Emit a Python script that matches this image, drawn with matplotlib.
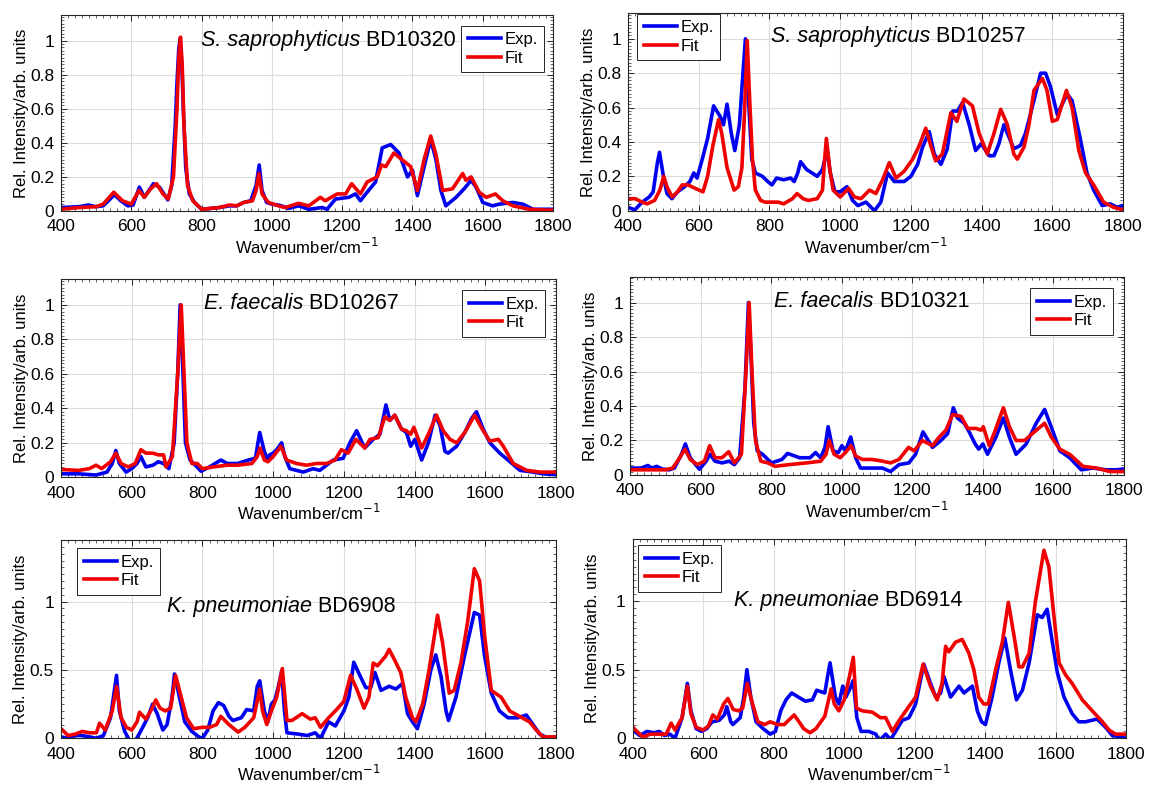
import numpy as np
import matplotlib
matplotlib.use('Agg')
import matplotlib.pyplot as plt
from matplotlib.ticker import AutoMinorLocator, MultipleLocator

plt.rcParams['font.family'] = ['Liberation Sans', 'DejaVu Sans']

# (wavenumber, relative intensity) pairs for each strain
sa320_exp = np.array([
    (400, 0.02), (450, 0.025), (478, 0.035), (500, 0.025), (520, 0.03), (552, 0.095), (570, 0.06),
    (590, 0.03), (605, 0.035), (623, 0.14), (637, 0.08), (663, 0.16), (680, 0.14), (704, 0.065),
    (715, 0.15), (725, 0.5), (730, 0.75), (735, 0.95), (739, 1.01), (744, 0.85), (748, 0.6),
    (755, 0.25), (765, 0.1), (780, 0.05), (800, 0.01), (850, 0.02), (880, 0.03), (900, 0.03),
    (920, 0.05), (940, 0.06), (955, 0.15), (964, 0.27), (972, 0.12), (985, 0.05), (1000, 0.04),
    (1019, 0.035), (1048, 0.015), (1076, 0.03), (1105, 0.01), (1143, 0.02), (1157, 0.01),
    (1181, 0.07), (1219, 0.08), (1238, 0.1), (1252, 0.06), (1271, 0.11), (1295, 0.17),
    (1314, 0.37), (1338, 0.39), (1362, 0.34), (1386, 0.2), (1400, 0.24), (1414, 0.09),
    (1438, 0.3), (1452, 0.42), (1467, 0.3), (1481, 0.12), (1495, 0.03), (1524, 0.08),
    (1547, 0.13), (1567, 0.18), (1581, 0.14), (1600, 0.05), (1628, 0.03), (1647, 0.04),
    (1686, 0.05), (1714, 0.04), (1743, 0.01), (1800, 0.01)])
sa320_fit = np.array([
    (400, 0.01), (450, 0.02), (500, 0.025), (520, 0.04), (550, 0.11), (575, 0.06), (600, 0.04),
    (622, 0.12), (637, 0.08), (655, 0.13), (672, 0.16), (690, 0.1), (705, 0.07), (720, 0.2),
    (730, 0.6), (735, 0.9), (740, 1.02), (745, 0.85), (750, 0.5), (760, 0.15), (775, 0.06),
    (800, 0.01), (850, 0.02), (880, 0.035), (900, 0.03), (920, 0.05), (945, 0.06), (955, 0.12),
    (963, 0.22), (972, 0.1), (990, 0.05), (1019, 0.03), (1038, 0.02), (1076, 0.045),
    (1105, 0.03), (1138, 0.08), (1152, 0.06), (1186, 0.1), (1210, 0.1), (1227, 0.16),
    (1252, 0.1), (1271, 0.17), (1300, 0.2), (1312, 0.27), (1324, 0.26), (1347, 0.34),
    (1371, 0.3), (1395, 0.26), (1414, 0.12), (1433, 0.3), (1452, 0.44), (1467, 0.33),
    (1486, 0.12), (1514, 0.13), (1543, 0.22), (1552, 0.18), (1567, 0.2), (1590, 0.11),
    (1610, 0.08), (1636, 0.1), (1657, 0.06), (1686, 0.03), (1733, 0.01), (1781, 0.005),
    (1800, 0.005)])

sa257_exp = np.array([
    (400, 0.02), (419, 0.005), (440, 0.05), (460, 0.08), (471, 0.11), (483, 0.28), (489, 0.34),
    (500, 0.2), (510, 0.1), (524, 0.07), (540, 0.11), (560, 0.14), (575, 0.17), (586, 0.22),
    (595, 0.19), (610, 0.3), (625, 0.42), (642, 0.61), (660, 0.55), (670, 0.5), (680, 0.62),
    (692, 0.45), (702, 0.35), (715, 0.5), (725, 0.8), (732, 1.0), (742, 0.6), (750, 0.3),
    (760, 0.22), (780, 0.2), (795, 0.17), (807, 0.15), (820, 0.19), (840, 0.18), (860, 0.19),
    (870, 0.17), (880, 0.22), (888, 0.285), (905, 0.24), (920, 0.22), (935, 0.2), (950, 0.24),
    (957, 0.3), (963, 0.36), (972, 0.22), (985, 0.11), (1000, 0.11), (1019, 0.14),
    (1035, 0.06), (1050, 0.03), (1073, 0.05), (1097, 0.0), (1115, 0.05), (1134, 0.22),
    (1153, 0.17), (1181, 0.17), (1200, 0.2), (1219, 0.27), (1233, 0.37), (1252, 0.46),
    (1266, 0.33), (1285, 0.27), (1303, 0.36), (1318, 0.58), (1332, 0.58), (1346, 0.63),
    (1365, 0.5), (1383, 0.35), (1399, 0.39), (1421, 0.32), (1435, 0.32), (1449, 0.39),
    (1463, 0.5), (1477, 0.43), (1491, 0.36), (1510, 0.38), (1524, 0.45), (1543, 0.6),
    (1567, 0.8), (1581, 0.8), (1595, 0.72), (1614, 0.56), (1642, 0.68), (1656, 0.64),
    (1679, 0.42), (1698, 0.22), (1717, 0.12), (1741, 0.03), (1764, 0.04), (1783, 0.02),
    (1800, 0.03)])
sa257_fit = np.array([
    (400, 0.07), (420, 0.07), (440, 0.05), (454, 0.04), (475, 0.06), (490, 0.12), (501, 0.2),
    (510, 0.14), (525, 0.08), (540, 0.11), (553, 0.15), (570, 0.15), (590, 0.13), (612, 0.11),
    (625, 0.2), (640, 0.38), (656, 0.53), (665, 0.45), (680, 0.25), (700, 0.12), (712, 0.14),
    (722, 0.25), (730, 0.6), (737, 0.99), (745, 0.6), (752, 0.3), (760, 0.12), (775, 0.06),
    (788, 0.05), (800, 0.05), (825, 0.05), (840, 0.04), (865, 0.07), (878, 0.1), (895, 0.07),
    (910, 0.06), (935, 0.07), (950, 0.12), (956, 0.3), (961, 0.42), (970, 0.25), (980, 0.12),
    (1000, 0.08), (1024, 0.13), (1040, 0.08), (1059, 0.07), (1083, 0.12), (1101, 0.1),
    (1120, 0.18), (1139, 0.28), (1158, 0.19), (1181, 0.23), (1205, 0.3), (1224, 0.38),
    (1242, 0.48), (1256, 0.38), (1270, 0.29), (1289, 0.33), (1303, 0.47), (1313, 0.57),
    (1330, 0.52), (1350, 0.65), (1374, 0.61), (1393, 0.45), (1416, 0.33), (1435, 0.45),
    (1454, 0.59), (1473, 0.5), (1491, 0.33), (1501, 0.3), (1520, 0.37), (1534, 0.5),
    (1548, 0.7), (1572, 0.77), (1585, 0.7), (1600, 0.52), (1614, 0.53), (1640, 0.7),
    (1656, 0.6), (1675, 0.35), (1694, 0.22), (1717, 0.15), (1745, 0.05), (1773, 0.02),
    (1800, 0.005)])

ef267_exp = np.array([
    (400, 0.02), (450, 0.02), (499, 0.013), (530, 0.03), (545, 0.08), (555, 0.155), (565, 0.08),
    (584, 0.03), (600, 0.05), (615, 0.08), (626, 0.12), (640, 0.06), (660, 0.07), (675, 0.09),
    (690, 0.08), (705, 0.05), (720, 0.2), (730, 0.6), (737, 1.0), (745, 0.6), (752, 0.2),
    (765, 0.1), (785, 0.06), (796, 0.035), (820, 0.06), (852, 0.1), (870, 0.08), (900, 0.08),
    (930, 0.1), (950, 0.11), (957, 0.2), (962, 0.26), (975, 0.15), (985, 0.1), (990, 0.13),
    (1000, 0.14), (1010, 0.16), (1024, 0.2), (1033, 0.12), (1047, 0.05), (1085, 0.03),
    (1113, 0.05), (1132, 0.04), (1151, 0.07), (1170, 0.1), (1198, 0.11), (1217, 0.2),
    (1236, 0.27), (1259, 0.17), (1283, 0.22), (1302, 0.25), (1319, 0.42), (1330, 0.33),
    (1344, 0.36), (1363, 0.28), (1377, 0.26), (1389, 0.18), (1401, 0.22), (1420, 0.1),
    (1439, 0.2), (1458, 0.36), (1472, 0.3), (1486, 0.15), (1495, 0.14), (1519, 0.18),
    (1542, 0.26), (1561, 0.34), (1575, 0.38), (1594, 0.28), (1613, 0.2), (1641, 0.14),
    (1670, 0.09), (1698, 0.04), (1736, 0.03), (1764, 0.02), (1800, 0.015)])
ef267_fit = np.array([
    (400, 0.045), (450, 0.04), (480, 0.05), (499, 0.07), (515, 0.05), (540, 0.09), (555, 0.14),
    (570, 0.08), (590, 0.06), (610, 0.08), (626, 0.16), (640, 0.14), (660, 0.14), (675, 0.13),
    (690, 0.13), (697, 0.06), (715, 0.12), (730, 0.6), (740, 1.0), (748, 0.6), (756, 0.2),
    (770, 0.08), (785, 0.08), (800, 0.05), (830, 0.06), (870, 0.07), (900, 0.07), (940, 0.08),
    (955, 0.12), (963, 0.17), (975, 0.1), (985, 0.09), (1000, 0.12), (1015, 0.16),
    (1022, 0.18), (1038, 0.1), (1066, 0.08), (1094, 0.07), (1123, 0.08), (1151, 0.08),
    (1175, 0.1), (1193, 0.16), (1212, 0.14), (1234, 0.22), (1259, 0.17), (1274, 0.22),
    (1297, 0.23), (1316, 0.35), (1330, 0.33), (1344, 0.36), (1363, 0.28), (1377, 0.27),
    (1389, 0.25), (1398, 0.29), (1420, 0.17), (1439, 0.25), (1462, 0.36), (1481, 0.27),
    (1500, 0.22), (1519, 0.2), (1542, 0.26), (1570, 0.36), (1594, 0.27), (1613, 0.21),
    (1637, 0.22), (1651, 0.18), (1679, 0.08), (1717, 0.04), (1755, 0.03), (1800, 0.03)])

ef321_exp = np.array([
    (400, 0.04), (430, 0.04), (450, 0.055), (460, 0.04), (475, 0.05), (490, 0.035), (510, 0.03),
    (525, 0.04), (545, 0.12), (556, 0.18), (570, 0.1), (585, 0.06), (596, 0.033), (615, 0.08),
    (626, 0.12), (640, 0.08), (660, 0.07), (680, 0.08), (695, 0.06), (710, 0.1), (725, 0.5),
    (735, 1.0), (742, 0.7), (750, 0.3), (760, 0.14), (775, 0.12), (785, 0.1), (800, 0.07),
    (830, 0.09), (846, 0.125), (880, 0.1), (910, 0.1), (925, 0.13), (940, 0.1), (952, 0.16),
    (961, 0.28), (975, 0.14), (990, 0.13), (1000, 0.17), (1010, 0.14), (1025, 0.22),
    (1039, 0.1), (1053, 0.04), (1086, 0.04), (1115, 0.04), (1138, 0.02), (1162, 0.06),
    (1190, 0.07), (1209, 0.12), (1230, 0.25), (1257, 0.16), (1281, 0.2), (1300, 0.24),
    (1316, 0.39), (1328, 0.33), (1347, 0.3), (1361, 0.25), (1378, 0.18), (1388, 0.15),
    (1400, 0.18), (1413, 0.12), (1437, 0.22), (1458, 0.33), (1475, 0.22), (1494, 0.12),
    (1523, 0.18), (1551, 0.3), (1575, 0.38), (1599, 0.25), (1618, 0.14), (1646, 0.1),
    (1679, 0.03), (1712, 0.04), (1750, 0.03), (1779, 0.03), (1800, 0.035)])
ef321_fit = np.array([
    (400, 0.03), (450, 0.03), (500, 0.03), (520, 0.04), (540, 0.1), (555, 0.15), (570, 0.09),
    (590, 0.06), (610, 0.08), (625, 0.17), (640, 0.1), (660, 0.1), (679, 0.135), (695, 0.07),
    (715, 0.12), (728, 0.6), (737, 1.0), (745, 0.6), (755, 0.2), (770, 0.08), (790, 0.07),
    (810, 0.05), (850, 0.06), (900, 0.07), (940, 0.08), (955, 0.12), (964, 0.2), (978, 0.12),
    (995, 0.1), (1010, 0.13), (1026, 0.17), (1039, 0.11), (1058, 0.09), (1086, 0.09),
    (1115, 0.08), (1138, 0.07), (1162, 0.09), (1189, 0.16), (1205, 0.14), (1228, 0.2),
    (1257, 0.17), (1276, 0.22), (1295, 0.26), (1314, 0.35), (1338, 0.34), (1357, 0.27),
    (1380, 0.27), (1395, 0.26), (1401, 0.28), (1418, 0.17), (1437, 0.27), (1458, 0.39),
    (1475, 0.28), (1494, 0.2), (1518, 0.2), (1546, 0.25), (1575, 0.3), (1594, 0.22),
    (1618, 0.15), (1646, 0.12), (1684, 0.05), (1722, 0.04), (1760, 0.02), (1800, 0.02)])

kp908_exp = np.array([
    (400, 0.01), (420, 0.0), (440, 0.02), (460, 0.02), (480, 0.01), (500, 0.0), (520, 0.02),
    (540, 0.15), (557, 0.46), (565, 0.2), (580, 0.05), (595, -0.02), (610, -0.02), (625, 0.05),
    (645, 0.15), (659, 0.25), (672, 0.18), (688, 0.06), (700, 0.1), (714, 0.3), (721, 0.47),
    (735, 0.3), (750, 0.12), (770, 0.05), (790, 0.01), (800, 0.0), (815, 0.06), (830, 0.2),
    (845, 0.26), (860, 0.24), (875, 0.16), (886, 0.13), (910, 0.15), (925, 0.21), (945, 0.2),
    (955, 0.38), (962, 0.42), (975, 0.2), (985, 0.12), (995, 0.25), (1005, 0.28), (1015, 0.38),
    (1024, 0.49), (1032, 0.2), (1039, 0.04), (1072, 0.03), (1096, 0.02), (1119, 0.04),
    (1134, 0.0), (1157, 0.12), (1176, 0.09), (1200, 0.2), (1214, 0.3), (1228, 0.556),
    (1247, 0.45), (1262, 0.37), (1276, 0.37), (1288, 0.48), (1305, 0.35), (1328, 0.38),
    (1347, 0.36), (1366, 0.4), (1380, 0.18), (1394, 0.12), (1408, 0.07), (1427, 0.25),
    (1446, 0.5), (1460, 0.61), (1475, 0.45), (1489, 0.2), (1496, 0.13), (1517, 0.3),
    (1541, 0.6), (1569, 0.92), (1584, 0.9), (1598, 0.6), (1617, 0.33), (1640, 0.2),
    (1664, 0.15), (1692, 0.15), (1716, 0.17), (1735, 0.1), (1754, 0.03), (1778, 0.0),
    (1800, 0.01)])
kp908_fit = np.array([
    (400, 0.07), (420, 0.02), (440, 0.03), (460, 0.05), (480, 0.04), (500, 0.04), (509, 0.11),
    (525, 0.06), (545, 0.2), (557, 0.38), (570, 0.15), (585, 0.08), (600, 0.06), (615, 0.12),
    (622, 0.19), (640, 0.14), (658, 0.22), (668, 0.28), (680, 0.22), (695, 0.2), (710, 0.22),
    (724, 0.46), (740, 0.3), (755, 0.15), (775, 0.07), (800, 0.08), (820, 0.08), (840, 0.1),
    (852, 0.16), (875, 0.1), (901, 0.045), (920, 0.08), (945, 0.15), (962, 0.36), (970, 0.2),
    (982, 0.1), (995, 0.2), (1010, 0.3), (1026, 0.51), (1039, 0.13), (1053, 0.13),
    (1082, 0.18), (1105, 0.14), (1119, 0.15), (1134, 0.08), (1157, 0.15), (1176, 0.2),
    (1200, 0.27), (1219, 0.46), (1238, 0.35), (1257, 0.22), (1271, 0.3), (1283, 0.55),
    (1295, 0.53), (1318, 0.6), (1328, 0.65), (1342, 0.58), (1361, 0.48), (1375, 0.3),
    (1394, 0.15), (1404, 0.12), (1423, 0.25), (1441, 0.5), (1465, 0.9), (1479, 0.7),
    (1498, 0.33), (1512, 0.35), (1531, 0.55), (1550, 0.85), (1569, 1.24), (1584, 1.15),
    (1598, 0.75), (1617, 0.35), (1645, 0.3), (1669, 0.2), (1697, 0.16), (1725, 0.12),
    (1744, 0.06), (1763, 0.01), (1800, 0.01)])

kp914_exp = np.array([
    (400, 0.06), (420, 0.02), (440, 0.05), (460, 0.04), (475, 0.05), (490, 0.02), (505, 0.03),
    (520, 0.0), (540, 0.15), (555, 0.4), (565, 0.2), (580, 0.07), (595, 0.05), (610, 0.07),
    (625, 0.12), (645, 0.13), (660, 0.17), (667, 0.23), (678, 0.12), (684, 0.1), (705, 0.15),
    (715, 0.3), (724, 0.5), (735, 0.3), (750, 0.12), (770, 0.07), (790, 0.03), (805, 0.05),
    (820, 0.2), (835, 0.28), (851, 0.33), (870, 0.3), (890, 0.27), (910, 0.28), (922, 0.35),
    (945, 0.33), (953, 0.45), (960, 0.55), (975, 0.3), (985, 0.25), (996, 0.38), (1005, 0.3),
    (1018, 0.37), (1026, 0.42), (1036, 0.15), (1048, 0.05), (1070, 0.05), (1090, 0.03),
    (1099, -0.02), (1118, 0.03), (1132, -0.01), (1146, 0.05), (1165, 0.13), (1184, 0.15),
    (1203, 0.25), (1226, 0.54), (1245, 0.4), (1260, 0.3), (1274, 0.33), (1283, 0.45),
    (1302, 0.3), (1326, 0.38), (1340, 0.33), (1364, 0.38), (1378, 0.2), (1390, 0.12),
    (1401, 0.1), (1420, 0.3), (1439, 0.55), (1456, 0.73), (1472, 0.5), (1489, 0.28),
    (1506, 0.35), (1525, 0.55), (1548, 0.9), (1562, 0.88), (1576, 0.94), (1591, 0.7),
    (1605, 0.48), (1624, 0.3), (1647, 0.18), (1666, 0.12), (1685, 0.12), (1718, 0.14),
    (1742, 0.08), (1761, 0.02), (1785, 0.01), (1800, 0.0)])
kp914_fit = np.array([
    (400, 0.08), (420, 0.03), (430, 0.01), (450, 0.03), (470, 0.03), (495, 0.03), (509, 0.11),
    (520, 0.06), (540, 0.15), (555, 0.38), (565, 0.18), (580, 0.08), (600, 0.06), (615, 0.09),
    (627, 0.17), (640, 0.14), (658, 0.25), (670, 0.29), (685, 0.21), (700, 0.2), (712, 0.22),
    (725, 0.4), (740, 0.25), (755, 0.12), (775, 0.1), (790, 0.12), (810, 0.1), (830, 0.1),
    (858, 0.17), (872, 0.12), (885, 0.07), (903, 0.04), (920, 0.07), (945, 0.16), (963, 0.36),
    (972, 0.25), (985, 0.2), (1000, 0.28), (1015, 0.45), (1026, 0.59), (1035, 0.22),
    (1051, 0.2), (1080, 0.19), (1103, 0.15), (1118, 0.15), (1137, 0.05), (1156, 0.13),
    (1175, 0.2), (1203, 0.3), (1224, 0.54), (1245, 0.38), (1264, 0.28), (1278, 0.4),
    (1288, 0.67), (1297, 0.63), (1316, 0.7), (1335, 0.72), (1354, 0.62), (1368, 0.5),
    (1382, 0.3), (1396, 0.25), (1409, 0.25), (1430, 0.5), (1449, 0.7), (1466, 0.99),
    (1482, 0.75), (1496, 0.52), (1506, 0.52), (1525, 0.62), (1543, 1.0), (1567, 1.37),
    (1581, 1.25), (1595, 0.9), (1610, 0.55), (1629, 0.46), (1647, 0.4), (1676, 0.28),
    (1704, 0.2), (1733, 0.12), (1752, 0.06), (1770, 0.03), (1800, 0.03)])

species = ['S. saprophyticus', 'S. saprophyticus', 'E. faecalis', 'E. faecalis',
           'K. pneumoniae', 'K. pneumoniae']
strains = ['BD10320', 'BD10257', 'BD10267', 'BD10321', 'BD6908', 'BD6914']

# axes rectangles [left, bottom, width, height]
rects = [[0.0531, 0.7343, 0.4282, 0.2468], [0.5466, 0.7346, 0.4308, 0.2490],
         [0.0531, 0.3989, 0.4308, 0.2497], [0.5486, 0.4018, 0.4296, 0.2497],
         [0.0531, 0.0702, 0.4308, 0.2497], [0.5507, 0.0702, 0.4293, 0.2506]]
label_pos = [(0.285, 0.872), (0.289, 0.879), (0.289, 0.879), (0.292, 0.874),
             (0.214, 0.664), (0.205, 0.690)]
leg_loc = ['upper right', 'upper left', 'upper right', 'upper right', 'upper left', 'upper left']
leg_anchor = [(0.982, 0.946), (0.018, 0.997), (0.978, 0.944), (0.978, 0.943),
              (0.032, 0.96), (0.011, 0.971)]

data = [(sa320_exp, sa320_fit), (sa257_exp, sa257_fit), (ef267_exp, ef267_fit),
        (ef321_exp, ef321_fit), (kp908_exp, kp908_fit), (kp914_exp, kp914_fit)]

fig = plt.figure(figsize=(11.49, 7.94), dpi=100)

for i, (exp, fit) in enumerate(data):
    ax = fig.add_axes(rects[i])
    ax.plot(exp[:, 0], exp[:, 1], color='#0000f0', lw=2.6, label='Exp.')
    ax.plot(fit[:, 0], fit[:, 1], color='#f00000', lw=2.6, label='Fit')
    ax.set_xlim(400, 1800)
    ax.xaxis.set_major_locator(MultipleLocator(200))
    if i < 4:
        ax.set_ylim(0, 1.15)
        ax.set_yticks([0, 0.2, 0.4, 0.6, 0.8, 1.0])
    else:
        ax.set_ylim(0, 1.45)
        ax.set_yticks([0, 0.5, 1.0])
    ax.set_yticklabels(['{:g}'.format(t) for t in ax.get_yticks()])
    ax.xaxis.set_minor_locator(AutoMinorLocator(10))
    ax.yaxis.set_minor_locator(AutoMinorLocator(10))
    ax.tick_params(which='both', direction='in', top=True, right=True, labelsize=12.5,
                   colors='#262626', labelcolor='black')
    ax.tick_params(which='major', length=4, width=0.7)
    ax.tick_params(which='minor', length=2, width=0.5)
    ax.tick_params(axis='x', which='major', pad=6)
    ax.tick_params(axis='y', which='major', pad=5)
    ax.grid(True, which='major', color='#dcdcdc', lw=0.8)
    ax.set_axisbelow(True)
    for sp in ax.spines.values():
        sp.set_color('#262626')
        sp.set_linewidth(0.8)
    ax.set_xlabel('Wavenumber/cm$^{-1}$', fontsize=12, labelpad=2)
    ax.set_ylabel('Rel. Intensity/arb. units', fontsize=12, labelpad=1)

    # italic species name followed by the strain code in upright type
    t1 = ax.text(label_pos[i][0], label_pos[i][1], species[i], style='italic',
                 transform=ax.transAxes, fontsize=15.5, ha='left', va='center')
    ax.annotate(' ' + strains[i], xy=(1, 0), xycoords=t1, fontsize=15.5,
                ha='left', va='bottom')

    leg = ax.legend(loc=leg_loc[i], bbox_to_anchor=leg_anchor[i], borderaxespad=0,
                    fontsize=12, handlelength=2.0, handletextpad=0.2, labelspacing=0.2,
                    borderpad=0.4, fancybox=False, framealpha=1, edgecolor='#262626')
    leg.get_frame().set_linewidth(0.7)

fig.savefig('out.png', dpi=100)
